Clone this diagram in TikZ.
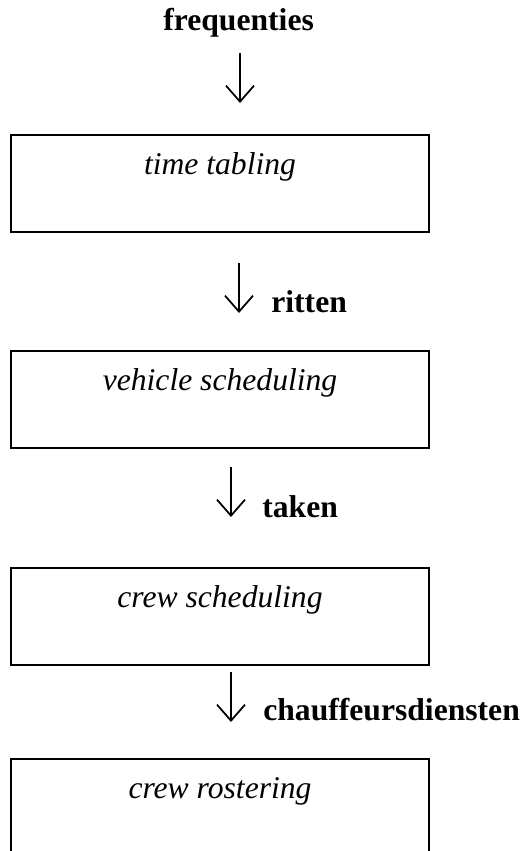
\documentclass[tikz,border=0pt]{standalone}
\usepackage{fontspec}
\setmainfont{Liberation Serif}
\usetikzlibrary{arrows.meta,
  positioning
}
\newcommand{\diagfont}{\fontsize{18}{21}\selectfont}
\tikzstyle{stagebox} = [draw, line width=1, inner sep=0, anchor=north,
  minimum width=8.36cm, text height=0.8cm, text depth=1.14cm,
  font=\diagfont\itshape]
\tikzstyle{flowlabel} = [anchor=base west, inner sep=0, font=\diagfont\bfseries]
\tikzstyle{flowarrow} = [line width=1,
  -{Straight Barb[length=0.32cm,width=0.56cm]}]

\begin{document}
\begin{tikzpicture}[x=0.02cm, y=-0.02cm]
  \useasboundingbox (0,0) rectangle (525,851);

  % input
  \node[flowlabel] (freq) at (163,31) {frequenties};
  \coordinate (f1) at (240,53);
  \coordinate (f2) at (240,103);
  \draw[flowarrow] (f1) -- (f2);

  % time tabling
  \node[stagebox] (timetab) at (220,134) {time tabling};
  \coordinate (r1) at (239,263);
  \coordinate (r2) at (239,313);
  \draw[flowarrow] (r1) -- (r2);
  \node[flowlabel] (ritten) at (271,312) {ritten};

  % vehicle scheduling
  \node[stagebox] (vehsched) at (220,350) {vehicle scheduling};
  \coordinate (t1) at (231,467);
  \coordinate (t2) at (231,517);
  \draw[flowarrow] (t1) -- (t2);
  \node[flowlabel] (taken) at (262,517) {taken};

  % crew scheduling
  \node[stagebox] (crewsched) at (220,567) {crew scheduling};
  \coordinate (c1) at (231,672);
  \coordinate (c2) at (231,722);
  \draw[flowarrow] (c1) -- (c2);
  \node[flowlabel] (diensten) at (263,720) {chauffeursdiensten};

  % crew rostering
  \node[stagebox] (crewrost) at (220,758) {crew rostering};
\end{tikzpicture}
\end{document}
